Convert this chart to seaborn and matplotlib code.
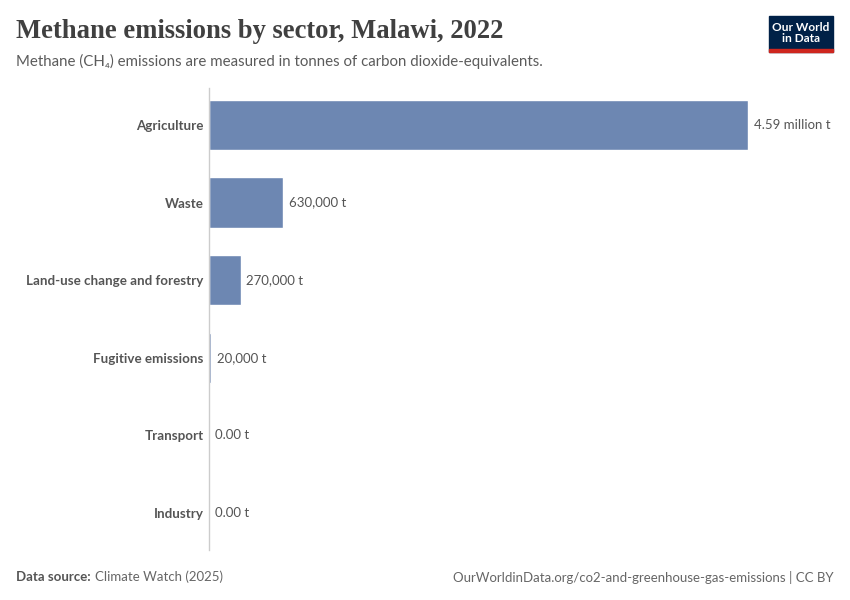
import matplotlib
matplotlib.use("Agg")
import matplotlib.pyplot as plt
import pandas as pd
import seaborn as sns
from matplotlib.patches import Rectangle

sectors = ["Agriculture", "Waste", "Land-use change and forestry",
           "Fugitive emissions", "Transport", "Industry"]
emissions = [4590000, 630000, 270000, 20000, 0, 0]
value_labels = ["4.59 million t", "630,000 t", "270,000 t", "20,000 t", "0.00 t", "0.00 t"]

df = pd.DataFrame({"sector": sectors, "emissions": emissions})

sns.set_theme(style="white")
plt.rcParams["font.family"] = ["Lato", "DejaVu Sans"]

fig = plt.figure(figsize=(8.5, 6), dpi=100)
ax = fig.add_axes([209 / 850, 1 - 550 / 600, (748 - 209) / 850, (550 - 88) / 600])

sns.barplot(data=df, x="emissions", y="sector", color="#6d87b2", width=0.65,
            saturation=1, ax=ax)

ax.set_xlim(0, max(emissions))
ax.set_ylim(5.477, -0.477)
ax.set_xlabel("")
ax.set_ylabel("")
ax.set_xticks([])
for s in ["top", "right", "bottom"]:
    ax.spines[s].set_visible(False)
ax.spines["left"].set_color("#cccccc")
ax.spines["left"].set_linewidth(1)
ax.tick_params(axis="y", length=0, pad=4)
for lbl in ax.get_yticklabels():
    lbl.set_fontsize(9.6)
    lbl.set_color("#555555")
    lbl.set_fontweight("bold")

for i, (v, txt) in enumerate(zip(emissions, value_labels)):
    ax.annotate(txt, (v, i), xytext=(4, 0), textcoords="offset points",
                va="center", ha="left", fontsize=9.5, color="#555555",
                annotation_clip=False)

fig.text(16 / 850, 1 - 32 / 600, "Methane emissions by sector, Malawi, 2022",
         family=["Liberation Serif", "DejaVu Serif"], fontsize=19.2, fontweight="bold",
         color="#404040", va="center", ha="left")
fig.text(16 / 850, 1 - 61 / 600,
         "Methane (CH\u2084) emissions are measured in tonnes of carbon dioxide-equivalents.",
         family=["Lato", "DejaVu Sans"], fontsize=10.8, color="#5b5b5b", va="center", ha="left")

fig.text(16 / 850, 1 - 577 / 600, "Data source:", fontsize=9.5, color="#555555",
         fontweight="bold", va="center", ha="left")
fig.text(95 / 850, 1 - 577 / 600, "Climate Watch (2025)", fontsize=9.5, color="#666666",
         va="center", ha="left")
fig.text(834 / 850, 1 - 577 / 600,
         "OurWorldinData.org/co2-and-greenhouse-gas-emissions | CC BY",
         fontsize=9.5, color="#666666", va="center", ha="right")

# logo
fig.patches.append(Rectangle((769 / 850, 1 - 52 / 600), 64 / 850, 36 / 600,
                             transform=fig.transFigure, color="#002147", zorder=5))
fig.patches.append(Rectangle((769 / 850, 1 - 52 / 600), 64 / 850, 3 / 600,
                             transform=fig.transFigure, color="#ce261e", zorder=6))
fig.text(801 / 850, 1 - 33 / 600, "Our World\nin Data", fontsize=8.6, color="white",
         fontweight="bold", ha="center", va="center", linespacing=1.0, zorder=7)

fig.savefig("out.png", dpi=100)
